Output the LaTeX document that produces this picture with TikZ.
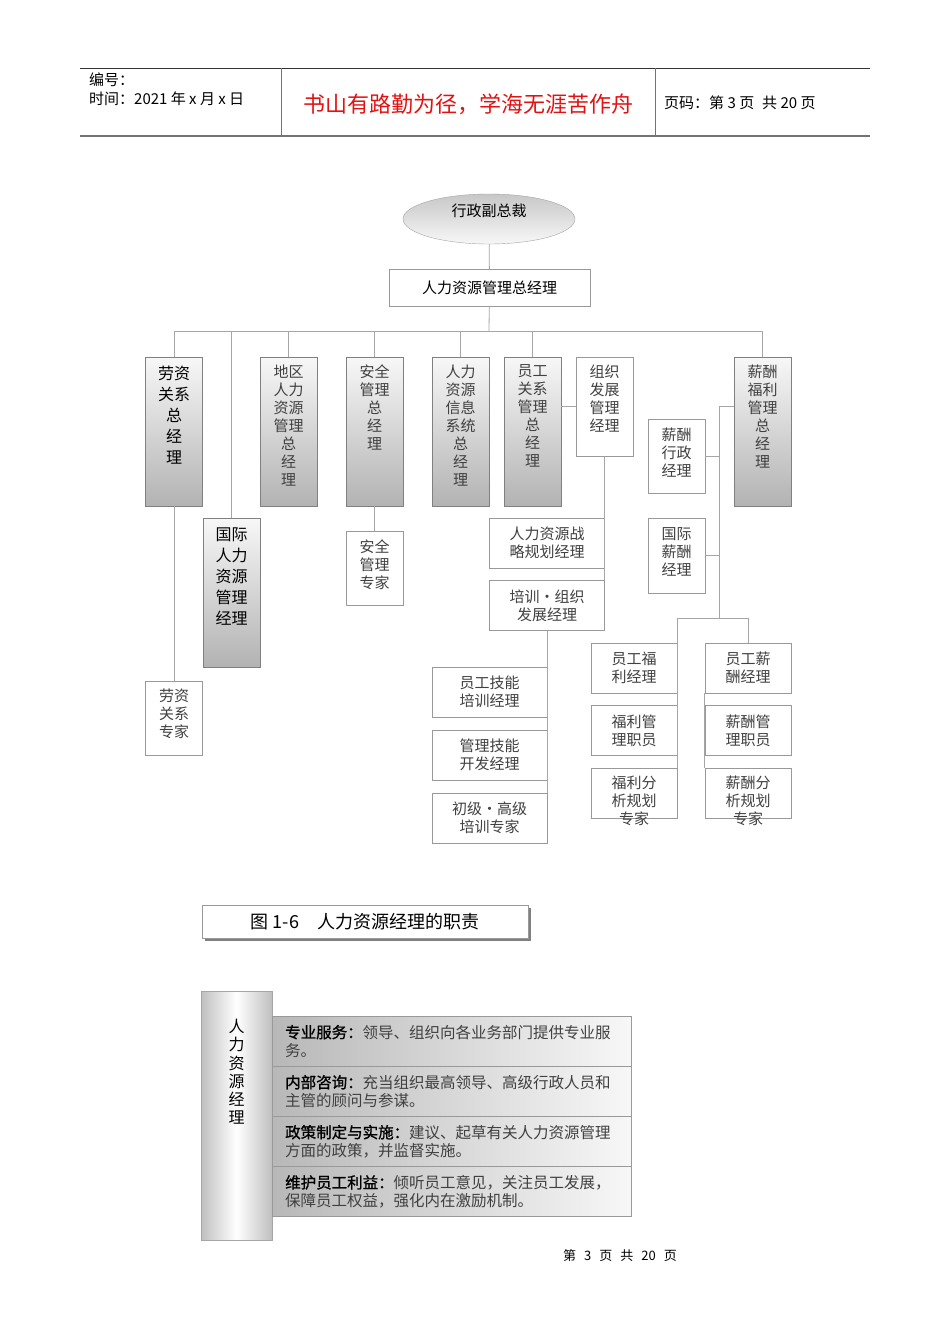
\documentclass[tikz,border=0pt]{standalone}
\usepackage{fontspec}
\setmainfont{Noto Sans CJK SC}[BoldFont={Noto Sans CJK SC},BoldFeatures={FakeBold=1.2}]
\usetikzlibrary{positioning,shapes.geometric,shadows}
\definecolor{mottored}{RGB}{226,18,18}
\newcommand{\fsz}[2]{\fontsize{#1}{#2}\selectfont}
\newcommand{\topstack}[3]{\parbox[c][#1][t]{#2}{\centering #3}}
\newcommand{\gp}{\hspace{8pt}}

\begin{document}
\begin{tikzpicture}[
  x=1pt, y=-1pt, node distance=12.5pt,
  every node/.style={inner sep=0pt, align=center},
  link/.style={draw=black!35, line width=0.8pt},
  plain/.style={draw=black!40, fill=white, text=black!75, font=\fsz{15}{18}},
  shaded/.style={draw=black!50, top color=black!3, bottom color=black!30, text=black!75, font=\fsz{15}{18}},
  heavy/.style={shaded, text=black, font=\fsz{16}{21}},
  tall/.style={minimum width=57pt, minimum height=149pt},
  narrow/.style={minimum width=57pt, minimum height=74pt},
  wide/.style={minimum width=115pt, minimum height=50pt},
  mid/.style={minimum width=86pt, minimum height=50pt},
  duty/.style={draw=black!40, left color=black!28, right color=black!3, minimum width=359pt, minimum height=49.75pt, text width=333pt, align=left, font=\fsz{15.5}{18}, text=black!75}
]
  \useasboundingbox (0,0) rectangle (950,1344);
  \fill[white] (0,0) rectangle (950,1344);
  \draw[black!80, line width=1pt] (80,68) -- (870,68);
  \draw[black!55, line width=2pt] (80,136) -- (870,136);
  \draw[black!55, line width=1pt] (281,68) -- (281,136) (655,68) -- (655,136);
  \node[anchor=west, font=\fsz{15}{18}] (serial) at (89,80) {编号：};
  \node[anchor=west, font=\fsz{15}{18}] (date) at (89,99) {时间：2021 年 x 月 x 日};
  \node[text=mottored, font=\fsz{22}{24}] (motto) at (468,104) {书山有路勤为径，学海无涯苦作舟};
  \node[anchor=west, font=\fsz{15}{18}] (pageno) at (664,103) {页码：第 3 页\gp 共 20 页};

  \node[ellipse, draw=black!35, top color=black!22, bottom color=black!3, minimum width=172pt, minimum height=50pt, text depth=17pt, font=\fsz{15}{18}] (vp) at (489,219) {行政副总裁};
  \node[draw=black!40, fill=white, minimum width=201pt, minimum height=37pt, font=\fsz{15}{18}] (hrgm) at (489.5,287.5) {人力资源管理总经理};

  \node[heavy, tall] (lr) at (174,431.5) {\topstack{131pt}{50pt}{劳资\\关系\\总\\经\\理}};
  \node[shaded, tall] (reg) at (288.5,431.5) {\topstack{133pt}{50pt}{地区\\人力\\资源\\管理\\总\\经\\理}};
  \node[shaded, tall] (safe) at (374.5,431.5) {\topstack{133pt}{50pt}{安全\\管理\\总\\经\\理}};
  \node[shaded, tall] (info) at (460.5,431.5) {\topstack{133pt}{50pt}{人力\\资源\\信息\\系统\\总\\经\\理}};
  \node[shaded, tall] (er) at (532.5,431.5) {\topstack{133pt}{50pt}{员工\\关系\\管理\\总\\经\\理}};
  \node[plain, minimum width=57pt, minimum height=99pt] (od) at (604.5,406.5) {\topstack{83pt}{50pt}{组织\\发展\\管理\\经理}};
  \node[shaded, tall] (comp) at (762.5,431.5) {\topstack{133pt}{50pt}{薪酬\\福利\\管理\\总\\经\\理}};

  \node[heavy, tall] (intl) at (231.5,592.5) {\topstack{129pt}{50pt}{国际\\人力\\资源\\管理\\经理}};
  \node[plain, narrow] (lrx) at (174,718) {\topstack{58pt}{50pt}{劳资\\关系\\专家}};
  \node[plain, narrow] (safex) at (374.5,568) {\topstack{56pt}{50pt}{安全\\管理\\专家}};

  \node[plain, wide] (strat) at (547,543) {人力资源战\\略规划经理};
  \node[plain, wide, below=12pt of strat] (train) {培训·组织\\发展经理};
  \node[plain, wide] (skill) at (489.5,692) {员工技能\\培训经理};
  \node[plain, wide, below=of skill] (mgmt) {管理技能\\开发经理};
  \node[plain, wide, below=of mgmt] (senior) {初级·高级\\培训专家};

  \node[plain, narrow] (cadm) at (676.5,456) {\topstack{56pt}{50pt}{薪酬\\行政\\经理}};
  \node[plain, narrow, minimum height=75pt] (cintl) at (676.5,555.5) {\topstack{57pt}{50pt}{国际\\薪酬\\经理}};

  \node[plain, mid] (ben) at (634,668) {员工福\\利经理};
  \node[plain, mid, below=12pt of ben] (benc) {福利管\\理职员};
  \node[plain, mid, below=of benc] (bena) {\topstack{34pt}{72pt}{福利分\\析规划\\专家}};
  \node[plain, mid] (sal) at (748,668) {员工薪\\酬经理};
  \node[plain, mid, below=12pt of sal] (salc) {薪酬管\\理职员};
  \node[plain, mid, below=of salc] (sala) {\topstack{34pt}{72pt}{薪酬分\\析规划\\专家}};

  \coordinate (bus) at (489,331);
  \coordinate (cspine) at (719,406);
  \coordinate (cjoin) at (719,618);
  \draw[link] (vp) -- (hrgm);
  \draw[link] (hrgm) -- (bus);
  \foreach \n in {lr,intl,reg,safe,info,er,comp}
    \draw[link] (bus) -| (\n.north);
  \draw[link] (lr) -- (lrx);
  \draw[link] (safe) -- (safex);
  \draw[link] (er.east |- od.west) -- (od.west);
  \draw[link] (od.south) -- (od.south |- train.north);
  \draw[link] (train.south) -- (train.south |- senior.north);
  \draw[link] (comp.west |- cspine) -- (cspine) -- (cjoin);
  \draw[link] (cadm.east) -- (cadm.east -| cspine);
  \draw[link] (cintl.east) -- (cintl.east -| cspine);
  \draw[link] (ben.north east |- cjoin) -- (sal.north |- cjoin) -- (sal.north);
  \draw[link] (ben.north east |- cjoin) -- (bena.north east);
  \draw[link] (sal.south west) -- (sala.north west);

  \node[draw=black!40, fill=white, general shadow={fill=black!50, shadow xshift=3pt, shadow yshift=-3pt}, minimum width=326pt, minimum height=33pt, font=\fsz{18}{20}] (fig) at (365,921.5) {图 1-6\quad 人力资源经理的职责};

  \node[draw=black!35, left color=black!25, right color=black!25, middle color=white, minimum width=71pt, minimum height=249pt, font=\fsz{16}{18.3}] (hrm) at (236.5,1115.5) {\topstack{193pt}{20pt}{人\\力\\资\\源\\经\\理}};
  \node[duty, anchor=north west] (d1) at (272,1016) {\textcolor{black}{\bfseries 专业服务：}领导、组织向各业务部门提供专业服\\务。};
  \node[duty, below=0pt of d1] (d2) {\textcolor{black}{\bfseries 内部咨询：}充当组织最高领导、高级行政人员和\\主管的顾问与参谋。};
  \node[duty, below=0pt of d2] (d3) {\textcolor{black}{\bfseries 政策制定与实施：}建议、起草有关人力资源管理\\方面的政策，并监督实施。};
  \node[duty, below=0pt of d3] (d4) {\textcolor{black}{\bfseries 维护员工利益：}倾听员工意见，关注员工发展，\\保障员工权益，强化内在激励机制。};

  \node[font=\fsz{13}{15}] (folio) at (620,1256) {第\gp 3\gp 页\gp 共\gp 20\gp 页};
\end{tikzpicture}
\end{document}
